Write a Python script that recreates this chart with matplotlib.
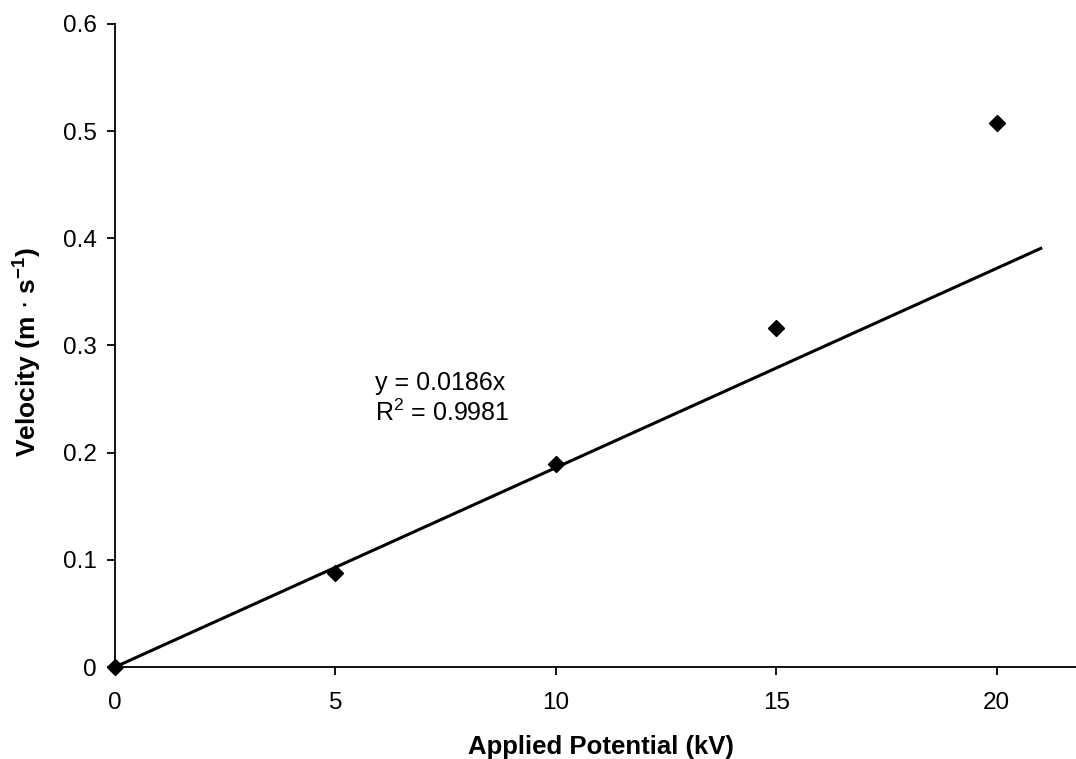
import matplotlib
matplotlib.use("Agg")
import matplotlib.pyplot as plt
import numpy as np

plt.rcParams['font.family'] = ['Liberation Sans', 'DejaVu Sans']

# Measured velocity vs applied potential
potential_kv = [0, 5, 10, 15, 20]
velocity = [0.0, 0.088, 0.189, 0.316, 0.508]

# Linear fit through the origin
slope = 0.0186
r_squared = 0.9981
fit_x = np.array([0, 21])
fit_y = slope * fit_x

x_ticks = [0, 5, 10, 15, 20]
y_ticks = [0, 0.1, 0.2, 0.3, 0.4, 0.5, 0.6]
y_tick_labels = ['0', '0.1', '0.2', '0.3', '0.4', '0.5', '0.6']

fig = plt.figure(figsize=(10.76, 7.59), dpi=100)
ax = fig.add_axes([0.1069, 0.1212, 0.8931, 0.8472])

ax.plot(fit_x, fit_y, color='black', lw=2.2, zorder=2)
ax.plot(potential_kv, velocity, linestyle='none', marker='D', markersize=8,
        color='black', zorder=3, clip_on=False)

ax.set_xlim(0, 21.8)
ax.set_ylim(0, 0.6)
ax.set_xticks(x_ticks)
ax.set_xticklabels([str(t) for t in x_ticks])
ax.set_yticks(y_ticks)
ax.set_yticklabels(y_tick_labels)

for s in ['top', 'right']:
    ax.spines[s].set_visible(False)
for s in ['left', 'bottom']:
    ax.spines[s].set_linewidth(1.3)

ax.tick_params(axis='x', direction='out', length=6, width=1.3,
               labelsize=17.5, pad=12)
ax.tick_params(axis='y', direction='out', length=6, width=1.3,
               labelsize=17.5, pad=7)

ax.set_xlabel('Applied Potential (kV)', fontsize=18.5, fontweight='bold',
              va='center', ha='center')
ax.xaxis.set_label_coords(0.506, -0.124)
ax.set_ylabel(r'Velocity (m $\cdot$ s$^{\mathregular{-1}}$)', fontsize=19,
              fontweight='bold', va='center', ha='center')
ax.yaxis.set_label_coords(-0.0916, 0.49)

ax.text(5.9, 0.265, f'y = {slope}x', fontsize=18, ha='left', va='center')
ax.text(5.9, 0.237, r'R$^{\mathregular{2}}$' + f' = {r_squared}', fontsize=18,
        ha='left', va='center')

fig.savefig('out.png', dpi=100)
